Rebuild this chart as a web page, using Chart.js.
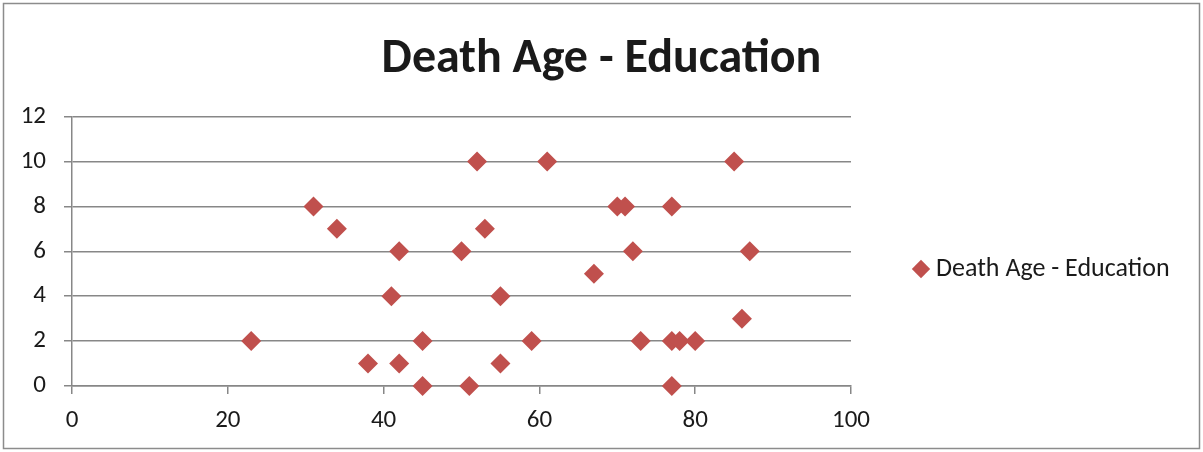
<!DOCTYPE html>
<html>
<head>
<meta charset="utf-8">
<script src="https://cdn.jsdelivr.net/npm/chart.js@4"></script>
<style>
  html, body { margin: 0; padding: 0; background: #fff; }
  #wrap { width: 1203px; height: 452px; }
</style>
</head>
<body>
<div id="wrap"><canvas id="chart"></canvas></div>
<script>
const seriesName = 'Death Age - Education';
const deathAge = [23, 31, 34, 38, 41, 42, 42, 45, 45, 50, 51, 52, 53, 55, 55, 59, 61, 67, 70, 71, 72, 73, 77, 77, 77, 78, 80, 85, 86, 87];
const education = [2, 8, 7, 1, 4, 6, 1, 2, 0, 6, 0, 10, 7, 4, 1, 2, 10, 5, 8, 8, 6, 2, 8, 2, 0, 2, 2, 10, 3, 6];

const fontFamily = 'Carlito, "Liberation Sans Narrow", "DejaVu Sans Condensed", sans-serif';
const gridColor = '#878787';

// outer frame of the chart + fixed width for the legend column
const frame = {
  id: 'frame',
  beforeLayout(chart) {
    const lg = chart.legend;
    if (lg && !lg._wide) {
      const fit = lg.fit.bind(lg);
      lg.fit = function () {
        fit();
        this.width = 352;
      };
      lg._wide = true;
    }
  },
  beforeDraw(chart) {
    const ctx = chart.ctx;
    ctx.save();
    ctx.fillStyle = '#fff';
    ctx.fillRect(0, 0, chart.width, chart.height);
    ctx.strokeStyle = '#8c8c8c';
    ctx.lineWidth = 1.5;
    ctx.strokeRect(3.5, 3.5, chart.width - 7, chart.height - 7);
    ctx.restore();
  }
};

const points = deathAge.map((x, i) => ({ x, y: education[i] }));

new Chart(document.getElementById('chart'), {
  type: 'scatter',
  data: {
    datasets: [{
      label: seriesName,
      data: points,
      pointStyle: 'rectRot',
      pointRadius: 10,
      backgroundColor: '#C0504D',
      borderColor: '#C0504D',
      borderWidth: 0,
      clip: false
    }]
  },
  options: {
    responsive: true,
    maintainAspectRatio: false,
    animation: false,
    layout: { padding: { left: 0, right: 0, top: 4, bottom: 4 } },
    plugins: {
      title: {
        display: true,
        text: seriesName,
        color: '#1a1a1a',
        font: { family: fontFamily, size: 48, weight: 'bold', lineHeight: 1.2 },
        padding: { top: 27, bottom: 28 }
      },
      legend: {
        position: 'right',
        maxWidth: 400,
        // empty title only pushes the single entry down a bit
        title: { display: true, text: '', font: { size: 5 }, padding: { top: 80, bottom: 0 } },
        labels: {
          usePointStyle: true,
          pointStyle: 'rectRot',
          boxWidth: 4,
          boxHeight: 13,
          color: '#1a1a1a',
          font: { family: fontFamily, size: 26 },
          padding: 68
        }
      },
      tooltip: { enabled: false }
    },
    scales: {
      x: {
        type: 'linear',
        min: 0,
        max: 100,
        ticks: { stepSize: 20, color: '#1a1a1a', font: { family: fontFamily, size: 25 }, padding: 12 },
        grid: { drawOnChartArea: false, color: gridColor, lineWidth: 1.5, tickLength: 8 },
        border: { color: gridColor, width: 1.5 }
      },
      y: {
        min: 0,
        max: 12,
        afterFit(scale) { scale.width = 72; },
        ticks: { stepSize: 2, color: '#1a1a1a', font: { family: fontFamily, size: 25 }, padding: 18 },
        grid: { color: gridColor, lineWidth: 1.5, tickLength: 8 },
        border: { color: gridColor, width: 1.5 }
      }
    }
  },
  plugins: [frame]
});
</script>
</body>
</html>
